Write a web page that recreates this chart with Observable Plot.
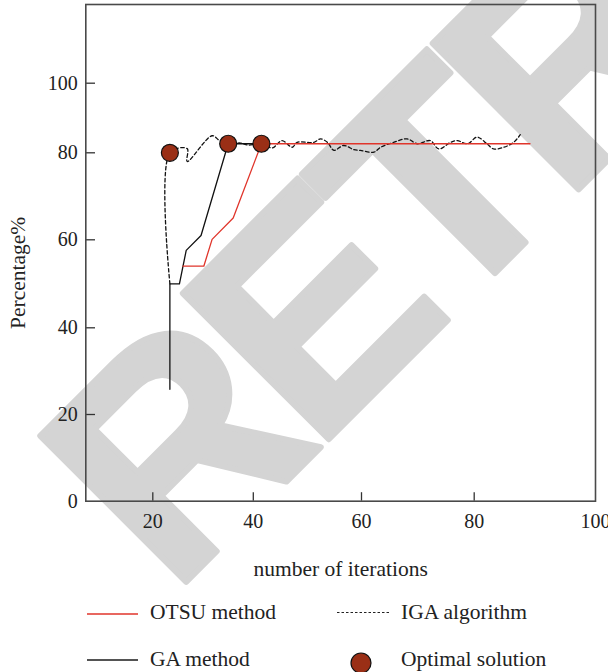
<!DOCTYPE html>
<html><head><meta charset="utf-8">
<script src="https://cdn.jsdelivr.net/npm/d3@7"></script>
<script src="https://cdn.jsdelivr.net/npm/@observablehq/plot@0.6"></script>
<style>
body{margin:0;background:#fff;}
#wrap{position:relative;width:608px;height:672px;overflow:hidden;font-family:"Liberation Serif",serif;}
#wm{position:absolute;left:0;top:0;z-index:0;}
#chart{position:absolute;left:0;top:0;z-index:1;}
#legend{position:absolute;left:0;top:590px;z-index:2;}
</style></head><body>
<div id="wrap">
<svg id="wm" width="608" height="672"><text x="172" y="596" transform="rotate(-45 172 596)" font-family="Liberation Sans" font-weight="bold" font-size="300" letter-spacing="-15" fill="#d4d4d4" stroke="#d4d4d4" stroke-width="6" stroke-linejoin="round">RETRACTED</text></svg>
<div id="chart"></div>
<svg id="legend" width="608" height="82" font-family="Liberation Serif" font-size="21.5" fill="#222">
  <line x1="87" x2="138" y1="24" y2="24" stroke="#e0352b" stroke-width="1.3"/>
  <text x="150" y="29">OTSU method</text>
  <line x1="337" x2="389" y1="22.5" y2="22.5" stroke="#222" stroke-width="1.2" stroke-dasharray="2.5,2"/>
  <text x="401" y="29">IGA algorithm</text>
  <line x1="87" x2="138" y1="70" y2="70" stroke="#1a1a1a" stroke-width="1.3"/>
  <text x="150" y="75.5">GA method</text>
  <circle cx="361" cy="73" r="10" fill="#9a2f16" stroke="#111" stroke-width="1.2"/>
  <text x="401" y="76">Optimal solution</text>
</svg>
</div>
<script>
const xTicks = [20, 40, 60, 80, 100];
const yTicks = [0, 20, 40, 60, 80, 100];
const otsuX = [26.0, 30.15, 31.8, 36.0, 41.5, 89.2];
const otsuY = [54, 54, 60.1, 65.0, 82.6, 82.6];
const gaX = [23.4, 23.4, 25.3, 26.65, 29.6, 35.0, 41.5];
const gaY = [25.8, 50, 50, 57.6, 61.0, 82.6, 82.6];
const igaX = [23.4, 23.4, 26.85, 26.85, 31.8, 33.3, 35.0, 37.45, 39.0, 41.5, 43.5, 45.3, 47.2, 48.1, 51.2, 52.4, 53.7, 54.9, 56.7, 58.6, 59.8, 62.2, 63.4, 65.7, 68.1, 69.9, 72.2, 73.7, 75.8, 77.0, 78.8, 80.5, 82.1, 83.2, 84.9, 86.5, 87.6];
const igaY = [50, 80, 81.2, 78.0, 84.9, 83.5, 82.6, 82.8, 82.2, 82.6, 81.4, 83.5, 81.6, 83.0, 83.0, 84.0, 83.0, 80.7, 82.1, 80.9, 80.7, 80.2, 81.6, 83.0, 84.0, 82.6, 83.5, 81.1, 83.0, 83.5, 82.6, 84.5, 82.6, 81.1, 81.6, 83.0, 85.2];
const optX = [23.4, 35.0, 41.5];
const optY = [80, 82.6, 82.6];

const pts = (xs, ys) => xs.map((x, i) => ({x, y: ys[i]}));

const plot = Plot.plot({
  width: 608,
  height: 590,
  marginLeft: 85.3,
  marginRight: 13,
  marginTop: 4,
  marginBottom: 89.3,
  style: {fontFamily: "Liberation Serif", fontSize: "20px", color: "#222", background: "transparent"},
  x: {type: "linear", domain: [6.7, 20, 40, 60, 80, 100], range: [85.3, 152.3, 252.8, 361, 473.7, 595], ticks: xTicks, tickSize: 0, tickPadding: 13, label: null},
  y: {type: "linear", domain: [0, 20, 40, 60, 80, 100, 122.6], range: [500.7, 414, 327.3, 239.3, 152.3, 82.7, 4], ticks: yTicks, tickSize: 0, tickPadding: 8, label: null},
  marks: [
    Plot.ruleX(xTicks.slice(0, 4), {x: d => d, insetTop: 488.2, stroke: "#333", strokeWidth: 1.3}),
    Plot.ruleY(yTicks.slice(1), {y: d => d, insetRight: 500, stroke: "#333", strokeWidth: 1.3}),
    Plot.line(pts(igaX, igaY), {x: "x", y: "y", stroke: "#111", strokeWidth: 1.3, strokeDasharray: "3.5,2.5", curve: "catmull-rom"}),
    Plot.line(pts(gaX, gaY), {x: "x", y: "y", stroke: "#111", strokeWidth: 1.3}),
    Plot.line(pts(otsuX, otsuY), {x: "x", y: "y", stroke: "#e0352b", strokeWidth: 1.3}),
    Plot.dot(pts(optX, optY), {x: "x", y: "y", r: 8.5, fill: "#9a2f16", stroke: "#111", strokeWidth: 1.2}),
    Plot.frame({stroke: "#4a4a4a", strokeWidth: 1.6}),
    Plot.text(["number of iterations"], {text: d => d, frameAnchor: "bottom", dy: 75, fontSize: 21.5, fill: "#222"}),
    Plot.text(["Percentage%"], {text: d => d, frameAnchor: "left", textAnchor: "middle", dx: -68, dy: 20, rotate: -90, fontSize: 21.5, fill: "#222"})
  ]
});
document.getElementById("chart").appendChild(plot);
</script>
</body></html>
